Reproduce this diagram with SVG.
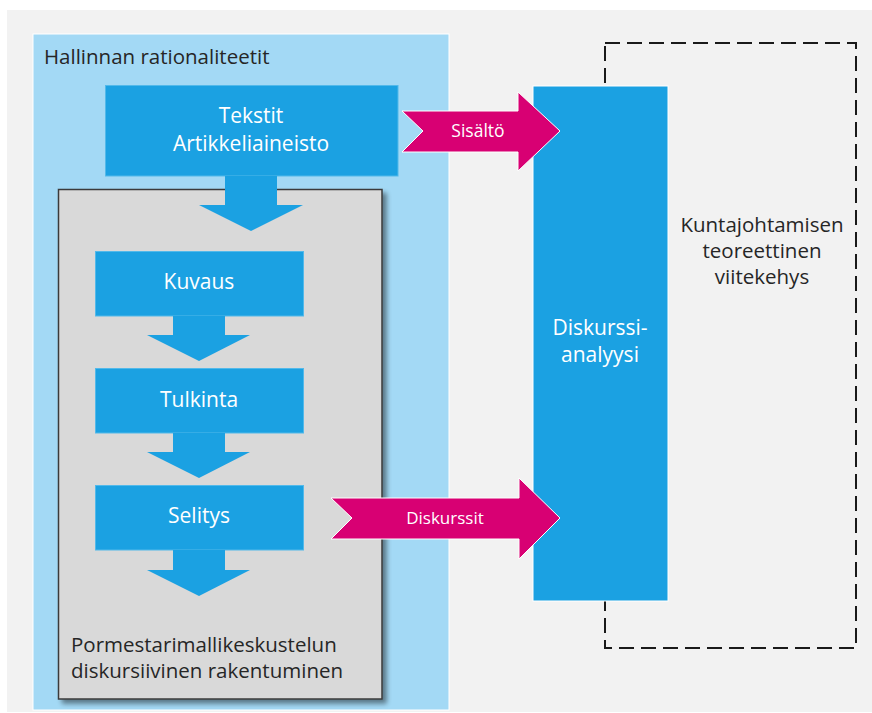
<svg xmlns="http://www.w3.org/2000/svg" width="872" height="713" viewBox="0 0 872 713">
<defs>
<style>
.t{font-family:"Open Sans","Noto Sans","DejaVu Sans",sans-serif;}
.dark{fill:#262626;font-size:20.5px;}
.wt{fill:#ffffff;font-size:21px;text-anchor:middle;}
.ws{fill:#ffffff;font-size:17.5px;text-anchor:middle;}
.wd{fill:#ffffff;font-size:17px;text-anchor:middle;}
.box{fill:#1ba1e2;stroke:#52b9ea;stroke-width:1;}
.down{fill:#1ba1e2;}
.pink{fill:#d80073;stroke:#ffffff;stroke-width:1;stroke-linejoin:miter;}
</style>
<filter id="sh" x="-10%" y="-10%" width="130%" height="130%">
<feGaussianBlur in="SourceAlpha" stdDeviation="2.5"/>
<feOffset dx="4" dy="4" result="b"/>
<feComponentTransfer><feFuncA type="linear" slope="0.45"/></feComponentTransfer>
<feMerge><feMergeNode/><feMergeNode in="SourceGraphic"/></feMerge>
</filter>
</defs>
<rect x="0" y="0" width="872" height="713" fill="#ffffff"/>
<rect x="7" y="10" width="865" height="702" fill="#f2f2f2"/>

<g id="hallinnan">
<rect x="33" y="34" width="416" height="676" fill="#a3d9f5" stroke="#ffffff" stroke-width="1"/>
<text class="t dark" x="44" y="64">Hallinnan rationaliteetit</text>
</g>

<g id="pormestari">
<rect x="58.5" y="189.5" width="323.5" height="509.5" fill="#d9d9d9" stroke="#3a3a3a" stroke-width="1.5" filter="url(#sh)"/>
<text class="t dark" x="71" y="652">Pormestarimallikeskustelun</text>
<text class="t dark" x="71" y="678">diskursiivinen rakentuminen</text>
</g>

<g id="viitekehys">
<rect x="605" y="43" width="251" height="605" fill="none" stroke="#1a1a1a" stroke-width="2" stroke-dasharray="15 7"/>
<text class="t dark" x="762" y="232" text-anchor="middle">Kuntajohtamisen</text>
<text class="t dark" x="762" y="258" text-anchor="middle">teoreettinen</text>
<text class="t dark" x="762" y="284" text-anchor="middle">viitekehys</text>
</g>

<g id="tekstit">
<rect class="box" x="105.5" y="85.5" width="292.5" height="90.5"/>
<text class="t wt" x="251" y="123">Tekstit</text>
<text class="t wt" x="251" y="151">Artikkeliaineisto</text>
</g>

<g id="kuvaus">
<rect class="box" x="95.5" y="251.5" width="208" height="64.5"/>
<text class="t wt" x="199" y="289">Kuvaus</text>
</g>

<g id="tulkinta">
<rect class="box" x="95.5" y="368.5" width="208" height="64.5"/>
<text class="t wt" x="199" y="407">Tulkinta</text>
</g>

<g id="selitys">
<rect class="box" x="95.5" y="485.5" width="208" height="64.5"/>
<text class="t wt" x="199" y="523">Selitys</text>
</g>

<g id="diskurssianalyysi">
<rect x="533" y="86" width="135" height="515" fill="#1ba1e2" stroke="#ffffff" stroke-width="1"/>
<text class="t wt" x="600" y="335">Diskurssi-</text>
<text class="t wt" x="600" y="362">analyysi</text>
</g>

<g id="connectors">
<polygon class="down" points="225,176 277,176 277,205 303,205 251,231 199,205 225,205"/>
<polygon class="down" points="173,316 225,316 225,335 250,335 199,361 147,335 173,335"/>
<polygon class="down" points="173,433 225,433 225,452 250,452 199,478 147,452 173,452"/>
<polygon class="down" points="173,550 225,550 225,570 250,570 199,596 147,570 173,570"/>
<g id="sisalto">
<polygon class="pink" points="402,111 518,111 518,92 560,131 518,171 518,152 402,152 423,131"/>
<text class="t ws" x="478" y="137">Sisältö</text>
</g>
<g id="diskurssit">
<polygon class="pink" points="331,498 519,498 519,478 560,518 519,559 519,539 331,539 352,518"/>
<text class="t wd" x="445" y="524">Diskurssit</text>
</g>
</g>
</svg>
